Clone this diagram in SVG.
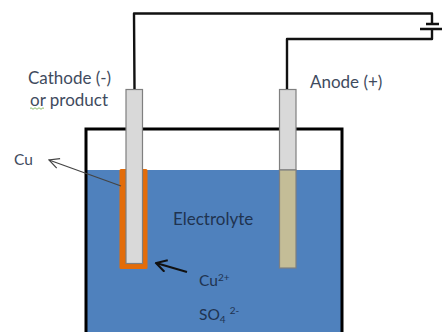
<svg xmlns="http://www.w3.org/2000/svg" width="442" height="332" viewBox="0 0 442 332">
<style>
text{font-family:Lato,"Liberation Sans",sans-serif;font-size:15.500px}
.big{font-size:17px}
.d{fill:#3f4b5e}
.w{fill:#1f3350}
.el{stroke:#7f7f7f;stroke-width:1.2}
.wire{fill:none;stroke:#111;stroke-width:2.4;stroke-linejoin:round}
</style>
<defs>
<marker id="a1" markerWidth="12" markerHeight="12" refX="11" refY="6" orient="auto" markerUnits="userSpaceOnUse"><path d="M1 1 L11 6 L1 11" fill="none" stroke="#444" stroke-width="1.2"/></marker>
<marker id="a2" markerWidth="14" markerHeight="14" refX="12.500" refY="7" orient="auto" markerUnits="userSpaceOnUse"><path d="M2 1 L12.500 7 L2 13" fill="none" stroke="#111" stroke-width="2"/></marker>
</defs>
<rect width="442" height="332" fill="#fff"/>
<g id="electrolyte"><rect x="86" y="170" width="256" height="162" fill="#4f81bd"/></g>
<g id="tank"><path d="M86 332V129H342V332" fill="none" stroke="#000" stroke-width="3"/></g>
<g id="cathode">
<rect x="119.500" y="169" width="28" height="100" rx="1.500" fill="#e36c09"/>
<rect class="el" x="126" y="89.500" width="16.500" height="174" fill="#d9d9d9"/>
</g>
<g id="anode">
<rect class="el" x="279.500" y="89.500" width="16.500" height="80.500" fill="#d9d9d9"/>
<rect class="el" x="279.500" y="170" width="16.500" height="98" fill="#c4bd97"/>
</g>
<g id="connectors">
<path class="wire" d="M134.500 89L134 13.500H432V24"/>
<path class="wire" d="M287 89V39H432V29"/>
<path class="wire" d="M426 24H439M420 29H442"/>
<path d="M121 186L49 160" fill="none" stroke="#444" stroke-width="1.200" marker-end="url(#a1)"/>
<path d="M187 272L156 263" fill="none" stroke="#111" stroke-width="2" marker-end="url(#a2)"/>
</g>
<g id="labels">
<text class="d big" x="28" y="84">Cathode (-)</text>
<text class="d big" x="30" y="106">or product</text>
<path d="M30 108.500q1-1.500 2 0t2 0 2 0 2 0 2 0 2 0 2 0" fill="none" stroke="#70ad47" stroke-width=".8"/>
<text class="d big" x="310" y="88">Anode (+)</text>
<text class="d" x="14" y="165">Cu</text>
<text class="w big" x="173" y="225">Electrolyte</text>
<text class="w" x="199" y="286">Cu<tspan font-size="10" dy="-5">2+</tspan></text>
<text class="w" x="199" y="320">SO<tspan font-size="10" dy="3">4</tspan><tspan font-size="10" dx="4" dy="-9">2-</tspan></text>
</g>
</svg>
